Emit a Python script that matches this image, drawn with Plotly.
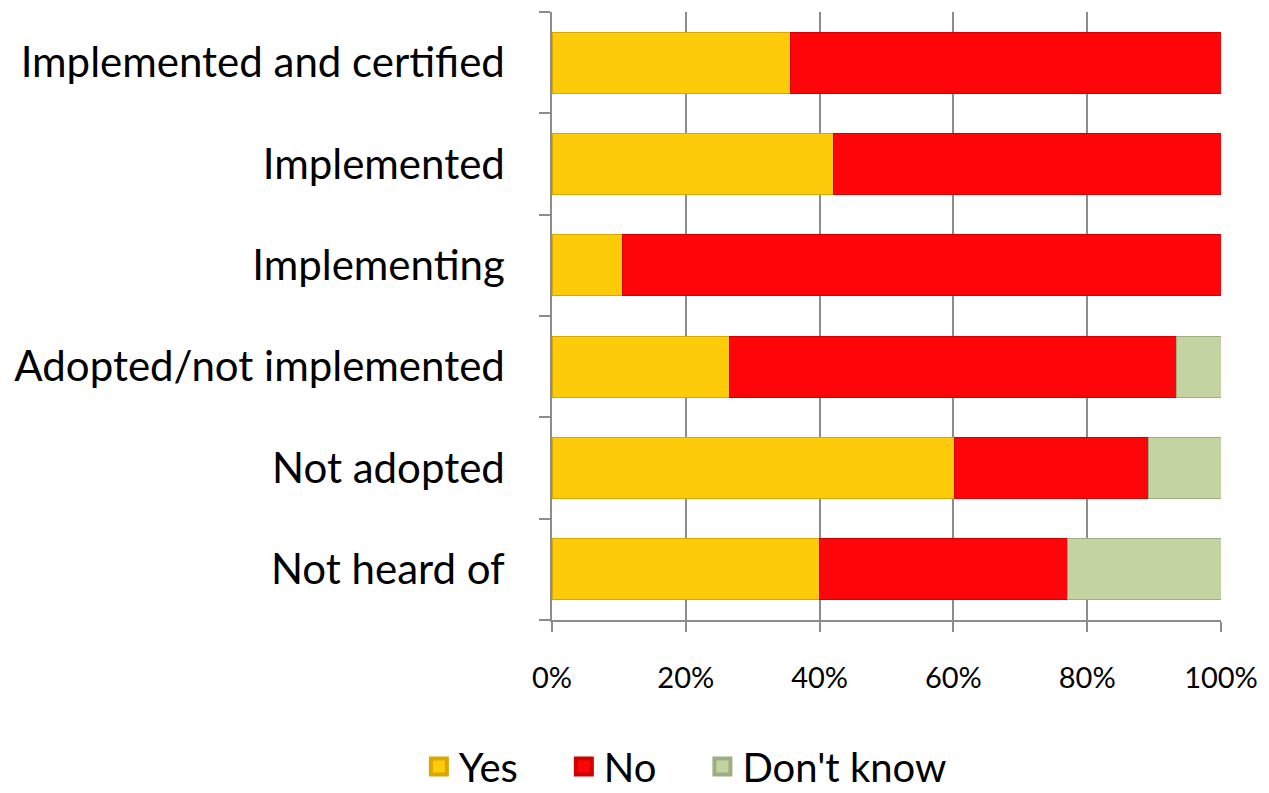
import plotly.graph_objects as go

categories = [
    "Implemented and certified",
    "Implemented",
    "Implementing",
    "Adopted/not implemented",
    "Not adopted",
    "Not heard of",
]
yes_pct = [35.7, 42.1, 10.6, 26.6, 60.2, 40.0]
no_pct = [64.3, 57.9, 89.4, 66.7, 29.0, 37.1]
dont_know_pct = [0.0, 0.0, 0.0, 6.7, 10.8, 22.9]

x_tick_vals = [0, 20, 40, 60, 80, 100]
x_tick_text = ["0%", "20%", "40%", "60%", "80%", "100%"]

series = [
    ("Yes", yes_pct, "#FDCB0A", "#D9A800"),
    ("No", no_pct, "#FE0509", "#D00000"),
    ("Don't know", dont_know_pct, "#C3D4A2", "#9DAE80"),
]

FONT = "Lato"
GRID = "#8C8C8C"
PAD = "\u00a0" * 4  # extra room between legend entries

fig = go.Figure()
for name, vals, fill, edge in series:
    fig.add_trace(go.Bar(
        name=name,
        y=categories,
        x=vals,
        orientation="h",
        marker=dict(color=fill, line=dict(color=edge, width=1)),
        width=0.6,
        showlegend=False,
    ))

# legend entries with larger square swatches
for i, (name, vals, fill, edge) in enumerate(series):
    label = name + (PAD if i < len(series) - 1 else "")
    fig.add_trace(go.Scatter(
        name=label,
        x=[None],
        y=[None],
        mode="markers",
        marker=dict(symbol="square", size=16, color=fill,
                    line=dict(color=edge, width=4)),
        showlegend=True,
        hoverinfo="skip",
    ))

fig.update_layout(
    barmode="stack",
    width=1269,
    height=793,
    margin=dict(l=552, r=48, t=12, b=173, autoexpand=False),
    paper_bgcolor="white",
    plot_bgcolor="white",
    font=dict(family=FONT, color="black"),
    showlegend=True,
    legend=dict(
        orientation="h",
        x=-0.199, xanchor="left",
        y=-0.241, yanchor="middle",
        font=dict(size=40, family=FONT),
        itemsizing="trace",
        traceorder="normal",
        itemwidth=30,
    ),
    xaxis=dict(
        range=[0, 100],
        tickvals=x_tick_vals,
        ticktext=x_tick_text,
        showgrid=True,
        gridcolor=GRID,
        gridwidth=1.5,
        zeroline=False,
        showline=True,
        linecolor=GRID,
        linewidth=1.5,
        ticks="outside",
        ticklen=10,
        tickcolor=GRID,
        tickwidth=1.5,
        tickfont=dict(size=29, family=FONT),
        ticklabelstandoff=21,
    ),
    yaxis=dict(
        categoryorder="array",
        categoryarray=categories[::-1],
        tickson="boundaries",
        showgrid=False,
        showline=True,
        linecolor=GRID,
        linewidth=1.5,
        ticks="outside",
        ticklen=11,
        tickcolor=GRID,
        tickwidth=1.5,
        tickfont=dict(size=42, family=FONT),
        ticklabelstandoff=37,
    ),
)

fig.write_html("out.html")
